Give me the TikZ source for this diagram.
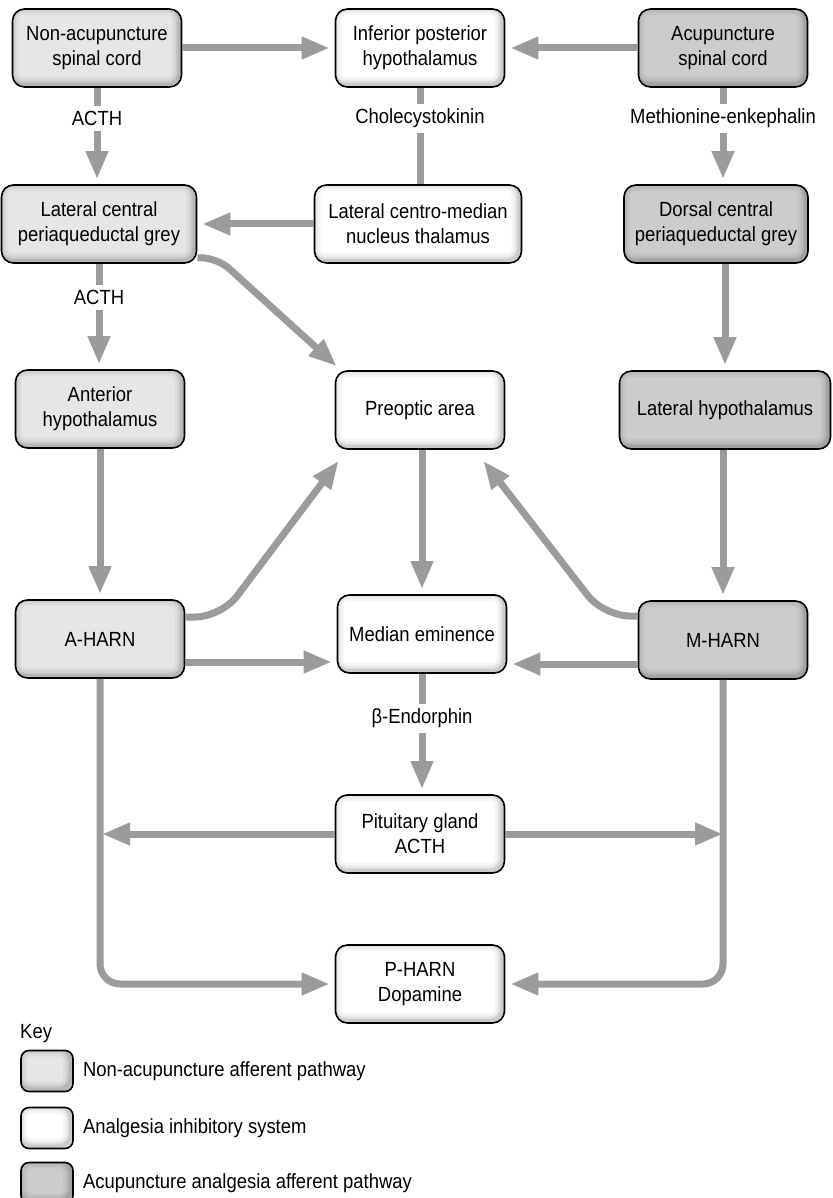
\documentclass[tikz,border=0pt]{standalone}
\usepackage{fontspec}
\setmainfont[FakeStretch=0.9]{Liberation Sans}
\usetikzlibrary{arrows.meta,positioning}
\definecolor{linegrey}{HTML}{9B9B9B}
\definecolor{nonfill}{HTML}{E6E6E6}
\definecolor{acufill}{HTML}{CCCCCC}
\tikzset{
  inset/.style={path picture={
    \foreach \lw/\op in {16/0.035,11/0.045,7/0.06,4/0.08}
      \draw[line width=\lw pt, black, opacity=\op, rounded corners=12pt]
        ([xshift=-2pt,yshift=2pt]path picture bounding box.south west) rectangle
        ([xshift=-2pt,yshift=2pt]path picture bounding box.north east);
  }},
  box/.style={draw, line width=1.6pt, rounded corners=12pt, align=center, minimum height=78pt, minimum width=169pt, inner xsep=10pt, font=\fontsize{20.5}{25}\selectfont, inset},
  nonbox/.style={box, fill=nonfill},
  inhbox/.style={box, fill=white},
  acubox/.style={box, fill=acufill},
  keybox/.style={draw, line width=1.6pt, rounded corners=8pt, minimum width=52pt, minimum height=41pt, inset},
  keytext/.style={inner sep=0pt, anchor=west, font=\fontsize{20.5}{25}\selectfont},
  flow/.style={-{Triangle[length=28pt,width=21pt]}, line width=7pt, draw=linegrey, shorten >=5pt},
  link/.style={line width=7pt, draw=linegrey},
  lab/.style={fill=white, inner xsep=4pt, inner ysep=5pt, font=\fontsize{20.5}{25}\selectfont}
}

\begin{document}
\begin{tikzpicture}[x=1pt, y=-1pt]
\useasboundingbox (0,0) rectangle (832,1198);
% boxes
\node[nonbox] (nonacu) at (97,48) {Non-acupuncture\\spinal cord};
\node[inhbox] (infpost) at (420,48) {Inferior posterior\\hypothalamus};
\node[acubox] (acu) at (723,48) {Acupuncture\\spinal cord};
\node[nonbox, minimum width=195pt] (latpag) at (99,224) {Lateral central\\periaqueductal grey};
\node[inhbox, minimum width=207pt] (lcm) at (418,224) {Lateral centro-median\\nucleus thalamus};
\node[acubox, minimum width=184pt] (dorsal) at (716,224) {Dorsal central\\periaqueductal grey};
\node[nonbox] (anthyp) at (100,409) {Anterior\\hypothalamus};
\node[inhbox] (preoptic) at (420,410) {Preoptic area};
\node[acubox, minimum width=211pt] (lathyp) at (725,410) {Lateral hypothalamus};
\node[nonbox] (aharn) at (100,639) {A-HARN};
\node[inhbox] (median) at (422,634) {Median eminence};
\node[acubox] (mharn) at (723,640) {M-HARN};
\node[inhbox] (pit) at (420,834) {Pituitary gland\\ACTH};
\node[inhbox] (pharn) at (420,984) {P-HARN\\Dopamine};

% connectors
\draw[flow] (nonacu.east) -- (infpost.west);
\draw[flow] (acu.west) -- (infpost.east);
\draw[flow] (nonacu.south) -- node[lab, pos=.32] {ACTH} (nonacu.south |- latpag.north);
\draw[link] (infpost.south) -- node[lab, pos=.32] {Cholecystokinin} (infpost.south |- lcm.north);
\draw[flow] (acu.south) -- node[lab, pos=.32] {Methionine-enkephalin} (acu.south |- dorsal.north);
\draw[flow] (lcm.west) -- (latpag.east);
\draw[flow] (latpag.south) -- node[lab, pos=.32] {ACTH} (latpag.south |- anthyp.north);
\draw[flow, rounded corners=16pt, shorten >=0pt] ([yshift=6pt]latpag.south east) -- ++(20,0) -- ([xshift=2pt,yshift=4pt]preoptic.north west);
\draw[flow] (dorsal.south -| lathyp) -- (lathyp.north);
\draw[flow] (anthyp.south) -- (aharn.north);
\draw[flow] (preoptic.south -| median) -- (median.north);
\draw[flow] (lathyp.south -| mharn) -- (mharn.north);
\draw[flow, rounded corners=26pt, shorten >=0pt] ([yshift=22pt]aharn.east) -- ++(36,0) -- ([xshift=4pt,yshift=-11pt]preoptic.south west);
\draw[flow, rounded corners=26pt, shorten >=0pt] ([yshift=24pt]mharn.west) -- ++(-34,0) -- ([xshift=-22pt,yshift=-11pt]preoptic.south east);
\draw[flow] ([yshift=-23pt]aharn.east) -- ([yshift=-23pt]aharn.east -| median.west);
\draw[flow] ([yshift=-24pt]mharn.west) -- ([yshift=-24pt]mharn.west -| median.east);
\draw[flow] (median.south) -- node[lab, pos=.37] {β-Endorphin} (median.south |- pit.north);
\draw[flow, shorten >=2pt] (pit.west) -- (pit.west -| aharn.south);
\draw[flow, shorten >=0pt] (pit.east) -- (pit.east -| mharn.south);
\draw[flow, rounded corners=20pt] (aharn.south) |- (pharn.west);
\draw[flow, rounded corners=20pt] (mharn.south) |- (pharn.east);

% key
\node[inner sep=0pt, anchor=base west, font=\fontsize{20.5}{25}\selectfont] (key) at (20,1038) {Key};
\node[keybox, fill=nonfill] (keynon) at (47,1071) {};
\node[keytext, right=9pt of keynon] (keynontext) {Non-acupuncture afferent pathway};
\node[keybox, fill=white] (keyinh) at (47,1128) {};
\node[keytext, right=9pt of keyinh] (keyinhtext) {Analgesia inhibitory system};
\node[keybox, fill=acufill] (keyacu) at (47,1183) {};
\node[keytext, right=9pt of keyacu] (keyacutext) {Acupuncture analgesia afferent pathway};
\end{tikzpicture}
\end{document}
